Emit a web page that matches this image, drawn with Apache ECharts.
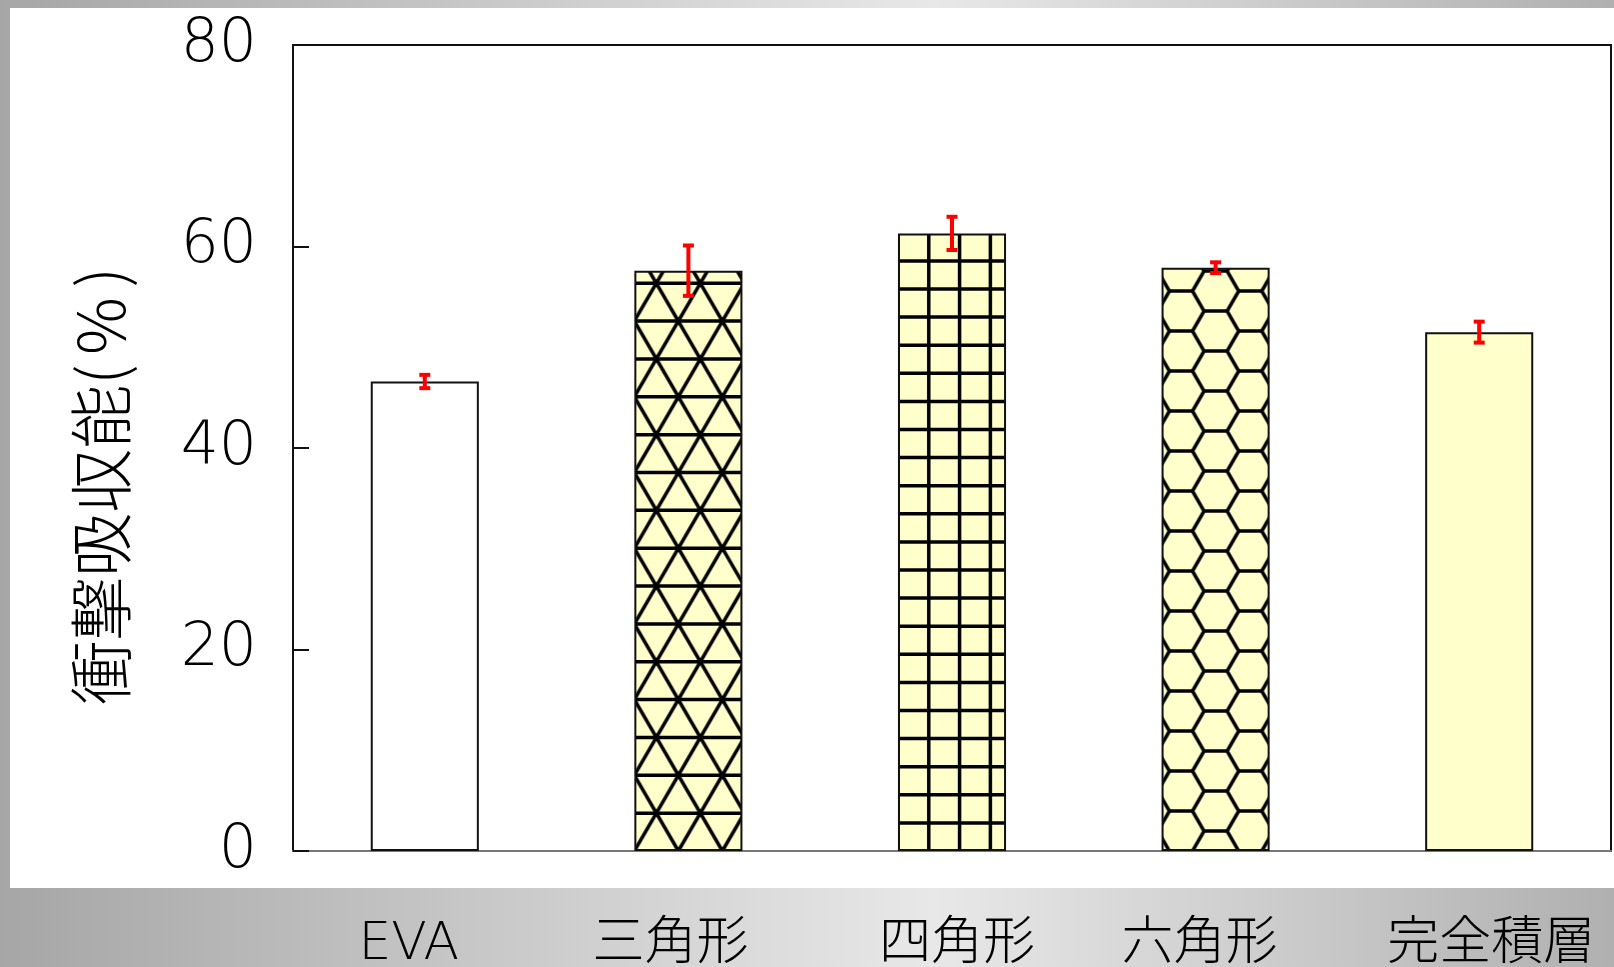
<!DOCTYPE html>
<html>
<head>
<meta charset="utf-8">
<script src="https://cdn.jsdelivr.net/npm/echarts@6/dist/echarts.min.js"></script>
<style>
  html, body { margin: 0; padding: 0; }
  #chart { width: 1614px; height: 967px; }
</style>
</head>
<body>
<div id="chart"></div>
<script>
// Impact absorption by core structure (mean and standard deviation, %)
const categories = ['EVA', '三角形', '四角形', '六角形', '完全積層'];
const absorption = [46.6, 57.6, 61.3, 57.9, 51.5];
const absorptionSd = [0.66, 2.5, 1.65, 0.53, 1.04];
const yTicks = [0, 20, 40, 60, 80];
const yTitleMain = '衝撃吸収能';
const yTitleUnit = ['(', '%', ')'];

// fill style for each bar
const barFills = ['white', 'triangle', 'square', 'hexagon', 'yellow'];
// small horizontal nudge of each category label
const labelNudge = [-16, -18, 5, -16, 12];

const FONT = '"DejaVu Sans", "Noto Sans CJK JP", sans-serif';
const CJK = '"Noto Sans CJK JP", "Noto Sans", sans-serif';
const YELLOW = '#ffffcc';
const INK = '#111111';

function tile(w, h) {
  const c = document.createElement('canvas');
  c.width = w; c.height = h;
  const g = c.getContext('2d');
  g.fillStyle = YELLOW;
  g.fillRect(0, 0, w, h);
  g.strokeStyle = '#000';
  g.lineWidth = 3.5;
  g.lineCap = 'butt';
  g.lineJoin = 'miter';
  return [c, g];
}

// triangular lattice, horizontal rows counted up from the tile bottom
function trianglePattern(W, H, side, row) {
  const [c, g] = tile(W, H);
  g.beginPath();
  for (let y = H; y > -row; y -= row) { g.moveTo(0, y); g.lineTo(W, y); }
  const rise = (H / row) * (side / 2);
  const extra = Math.ceil(rise / side) + 2;
  for (let j = -extra; j <= Math.ceil(W / side) + extra; j++) {
    g.moveTo(j * side, H); g.lineTo(j * side + rise, 0);
    g.moveTo(j * side, H); g.lineTo(j * side - rise, 0);
  }
  g.stroke();
  return c;
}

// square grid
function squarePattern(W, H, colW, rowH) {
  const [c, g] = tile(W, H);
  g.beginPath();
  for (let x = 0; x <= W; x += colW) { g.moveTo(x, 0); g.lineTo(x, H); }
  for (let y = H; y > -rowH; y -= rowH) { g.moveTo(0, y); g.lineTo(W, y); }
  g.stroke();
  return c;
}

// flat-topped honeycomb, middle column centred in the tile
function hexPattern(W, H, hexH) {
  const [c, g] = tile(W, H);
  const s = hexH / Math.sqrt(3);
  const half = hexH / 2;
  const mMax = Math.ceil((W / 2) / (1.5 * s)) + 1;
  const jMax = Math.ceil(H / hexH) + 1;
  g.beginPath();
  for (let m = -mMax; m <= mMax; m++) {
    const cx = W / 2 + 1.5 * s * m;
    for (let j = -1; j <= jMax; j++) {
      const cy = H - hexH * j - (Math.abs(m) % 2 ? half : 0);
      g.moveTo(cx + s, cy);
      g.lineTo(cx + s / 2, cy - half);
      g.lineTo(cx - s / 2, cy - half);
      g.lineTo(cx - s, cy);
      g.lineTo(cx - s / 2, cy + half);
      g.lineTo(cx + s / 2, cy + half);
      g.closePath();
    }
  }
  g.stroke();
  return c;
}

const chart = echarts.init(document.getElementById('chart'), null, { renderer: 'canvas' });

const rich = {};
categories.forEach((c, i) => {
  const n = labelNudge[i];
  rich['c' + i] = {
    fontFamily: FONT, fontSize: 52, fontWeight: 200, color: '#000', lineHeight: 56,
    padding: n < 0 ? [0, -2 * n, 0, 0] : [0, 0, 0, 2 * n]
  };
});

function baseColor(i) {
  return barFills[i] === 'white' ? '#ffffff' : YELLOW;
}

const titleText = '{m|' + yTitleMain + '}{p|' + yTitleUnit[0] + '}{q|' + yTitleUnit[1] + '}{p|' + yTitleUnit[2] + '}';

const option = {
  animation: false,
  graphic: [
    {
      type: 'rect', z: -100, silent: true,
      shape: { x: 0, y: 0, width: 1614, height: 967 },
      style: {
        fill: {
          type: 'linear', x: 0, y: 0, x2: 1, y2: 0,
          colorStops: [
            { offset: 0, color: '#a6a6a6' },
            { offset: 0.58, color: '#e8e8e8' },
            { offset: 1, color: '#b0b0b0' }
          ]
        }
      }
    },
    {
      type: 'rect', z: -99, silent: true,
      shape: { x: 10, y: 8, width: 1604, height: 880 },
      style: { fill: '#ffffff' }
    },
    {
      type: 'text', z: 10, silent: true,
      x: 101, y: 486, rotation: Math.PI / 2,
      style: {
        text: titleText,
        align: 'center', verticalAlign: 'middle',
        rich: {
          m: { fontFamily: CJK, fontSize: 64, fontWeight: 300, fill: '#000' },
          p: { fontFamily: CJK, fontSize: 64, fontWeight: 300, fill: '#000' },
          q: { fontFamily: CJK, fontSize: 64, fontWeight: 300, fill: '#000', padding: [0, 10, 0, 10] }
        }
      }
    }
  ],
  grid: {
    left: 293, right: 3, top: 45, bottom: 116,
    outerBoundsMode: 'none',
    containLabel: false,
    show: true, borderColor: INK, borderWidth: 2, backgroundColor: 'transparent'
  },
  xAxis: {
    type: 'category',
    data: categories,
    axisLine: { show: true, lineStyle: { color: '#777777', width: 2 } },
    axisTick: { show: false },
    axisLabel: {
      margin: 66,
      interval: 0,
      formatter: (v, i) => '{c' + i + '|' + v + '}',
      rich: rich
    },
    splitLine: { show: false }
  },
  yAxis: {
    type: 'value',
    min: yTicks[0],
    max: yTicks[yTicks.length - 1],
    interval: yTicks[1] - yTicks[0],
    axisLine: { show: true, lineStyle: { color: INK, width: 2 } },
    axisTick: { show: true, inside: true, length: 16, lineStyle: { color: INK, width: 2 } },
    axisLabel: {
      margin: 36, color: '#000',
      fontFamily: FONT, fontSize: 60, fontWeight: 200,
      padding: [4, 0, 0, 0]
    },
    splitLine: { show: false }
  },
  series: [
    {
      type: 'bar',
      barWidth: '41%',
      z: 5,
      silent: true,
      itemStyle: { borderColor: INK, borderWidth: 2 },
      data: absorption.map((v, i) => ({ value: v, itemStyle: { color: baseColor(i) } }))
    },
    {
      type: 'custom',
      z: 10,
      silent: true,
      data: categories.map((c, i) => [i, absorption[i], absorptionSd[i]]),
      encode: { x: 0, y: 1 },
      renderItem: (params, api) => {
        const i = api.value(0), m = api.value(1), e = api.value(2);
        const top = api.coord([i, m + e]);
        const bot = api.coord([i, m - e]);
        const hw = 5.5;
        const st = { stroke: '#ff0000', lineWidth: 4, fill: null };
        return {
          type: 'group',
          children: [
            { type: 'line', shape: { x1: top[0], y1: top[1], x2: bot[0], y2: bot[1] }, style: st },
            { type: 'line', shape: { x1: top[0] - hw, y1: top[1], x2: top[0] + hw, y2: top[1] }, style: st },
            { type: 'line', shape: { x1: bot[0] - hw, y1: bot[1], x2: bot[0] + hw, y2: bot[1] }, style: st }
          ]
        };
      }
    }
  ]
};

chart.setOption(option);

// Anchor the hatch fills to each bar's pixel box, taken from the axes
const TW = 200, TH = 820;
const p0 = chart.convertToPixel({ gridIndex: 0 }, [0, 0]);
const p1 = chart.convertToPixel({ gridIndex: 0 }, [1, 0]);
const barW = (p1[0] - p0[0]) * 0.41;

const patterned = absorption.map((v, i) => {
  const base = chart.convertToPixel({ gridIndex: 0 }, [i, 0]);
  const cx = base[0], bottom = base[1];
  const left = cx - barW / 2;
  let color = baseColor(i);
  if (barFills[i] === 'triangle') {
    color = { image: trianglePattern(TW, TH, 44, 37.85), repeat: 'no-repeat', x: left, y: bottom - TH };
  } else if (barFills[i] === 'square') {
    color = { image: squarePattern(TW, TH, 30.8, 28.1), repeat: 'no-repeat', x: left, y: bottom - TH };
  } else if (barFills[i] === 'hexagon') {
    color = { image: hexPattern(TW, TH, 40), repeat: 'no-repeat', x: cx - TW / 2, y: bottom - TH };
  }
  return { value: v, itemStyle: { color: color } };
});

chart.setOption({ series: [{ data: patterned }, {}] });
</script>
</body>
</html>
